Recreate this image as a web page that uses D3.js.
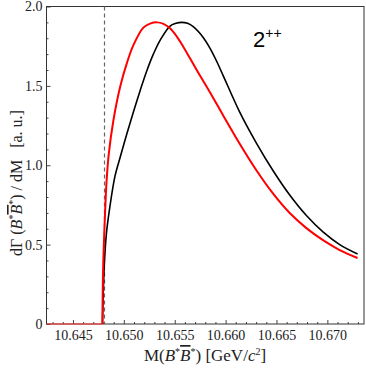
<!DOCTYPE html>
<html><head><meta charset="utf-8">
<script src="https://cdn.jsdelivr.net/npm/d3@7"></script>
<style>body{margin:0;background:#fff}svg{display:block}</style>
</head><body><svg id="c" width="366" height="369"></svg>
<script>
const xDomain = [10.6424, 10.6736];
const yDomain = [0, 2.0];
const xMajorTicks = [10.645, 10.650, 10.655, 10.660, 10.665, 10.670];
const yMajorTicks = [0, 0.5, 1.0, 1.5, 2.0];
const threshold = 10.6481;
const belowX = [10.6424, 10.64789];
const belowY = [0, 0];
const blackX = [10.64790, 10.64807, 10.64829, 10.64863, 10.64912, 10.64964, 10.65029, 10.65094, 10.65160, 10.65225, 10.65290, 10.65356, 10.65454, 10.65512, 10.65569, 10.65626, 10.65682, 10.65780, 10.65846, 10.65912, 10.65976, 10.66140, 10.66304, 10.66467, 10.66630, 10.66794, 10.66957, 10.67121, 10.67297];
const blackY = [0, 0.360, 0.571, 0.739, 0.928, 1.050, 1.197, 1.336, 1.470, 1.594, 1.700, 1.787, 1.877, 1.894, 1.900, 1.894, 1.873, 1.805, 1.738, 1.655, 1.565, 1.333, 1.138, 0.965, 0.812, 0.683, 0.580, 0.500, 0.441];
const redX = [10.64789, 10.64797, 10.64814, 10.64829, 10.64851, 10.64898, 10.64964, 10.65029, 10.65094, 10.65192, 10.65258, 10.65324, 10.65389, 10.65454, 10.65519, 10.65584, 10.65716, 10.65846, 10.65976, 10.66140, 10.66304, 10.66467, 10.66630, 10.66794, 10.66957, 10.67121, 10.67297];
const redY = [0, 0.361, 0.676, 0.886, 1.065, 1.285, 1.495, 1.642, 1.757, 1.867, 1.892, 1.900, 1.891, 1.863, 1.812, 1.747, 1.600, 1.460, 1.314, 1.134, 0.967, 0.821, 0.699, 0.604, 0.528, 0.466, 0.416];

const svg = d3.select("#c");
const L = 46.5, R = 364, T = 6.5, B = 324;
const x = d3.scaleLinear().domain(xDomain).range([L, R]);
const y = d3.scaleLinear().domain(yDomain).range([B, T]);
const serif = "Liberation Serif, Times New Roman, serif";

const xMinor = d3.range(10.643, 10.6736, 0.001).filter(v => !xMajorTicks.some(t => Math.abs(t - v) < 1e-6));
const yMinor = d3.range(0, 2.0001, 0.1).filter(v => !yMajorTicks.some(t => Math.abs(t - v) < 1e-6));

const gx = svg.append("g").attr("transform", `translate(0,${B})`);
gx.call(d3.axisBottom(x).tickValues(xMajorTicks).tickSize(-4).tickPadding(6).tickFormat(d3.format(".3f")));
const gxm = svg.append("g").attr("transform", `translate(0,${B})`);
gxm.call(d3.axisBottom(x).tickValues(xMinor).tickSize(-2).tickFormat(""));
const gy = svg.append("g").attr("transform", `translate(${L},0)`);
gy.call(d3.axisLeft(y).tickValues(yMajorTicks).tickSize(-4).tickPadding(4).tickFormat(d => d === 0 ? "0" : d3.format(".1f")(d)));
const gym = svg.append("g").attr("transform", `translate(${L},0)`);
gym.call(d3.axisLeft(y).tickValues(yMinor).tickSize(-2).tickFormat(""));
svg.selectAll(".domain").remove();
svg.selectAll(".tick line").attr("stroke", "#444");
svg.selectAll(".tick text").attr("font-size", 14).attr("fill", "#222").attr("font-family", serif);

svg.append("rect").attr("x", L).attr("y", T).attr("width", R - L).attr("height", B - T)
  .attr("fill", "none").attr("stroke", "#333").attr("stroke-width", 1);

svg.append("line").attr("x1", x(threshold)).attr("x2", x(threshold)).attr("y1", T).attr("y2", B)
  .attr("stroke", "#666").attr("stroke-width", 1.2).attr("stroke-dasharray", "4,3");

const line = d3.line().x(d => x(d[0])).y(d => y(d[1])).curve(d3.curveCatmullRom.alpha(0.5));
const flat = d3.line().x(d => x(d[0])).y(d => y(d[1]));
svg.append("path").datum(blackX.map((v, i) => [v, blackY[i]])).attr("d", line)
  .attr("fill", "none").attr("stroke", "#000").attr("stroke-width", 1.6);
svg.append("path").datum(redX.map((v, i) => [v, redY[i]])).attr("d", line)
  .attr("fill", "none").attr("stroke", "#f00").attr("stroke-width", 2);
svg.append("path").datum(belowX.map((v, i) => [v, belowY[i]])).attr("d", flat)
  .attr("fill", "none").attr("stroke", "#f33").attr("stroke-width", 1.5).attr("opacity", 0.7);

const lab = svg.append("text").attr("x", 253).attr("y", 47).style("font-family", "Liberation Sans, Arial, sans-serif").attr("font-size", 22).attr("fill", "#000");
lab.append("tspan").text("2");
lab.append("tspan").attr("font-size", 14).attr("dy", -9).text("++");

const xt = svg.append("text").attr("x", 205).attr("y", 361).attr("text-anchor", "middle").style("font-family", serif).attr("font-size", 17).attr("fill", "#222");
xt.append("tspan").text("M(");
xt.append("tspan").attr("font-style", "italic").text("B");
xt.append("tspan").attr("font-size", 10).attr("dy", -6).text("*");
xt.append("tspan").attr("font-style", "italic").attr("dy", 6).attr("text-decoration", "overline").text("B");
xt.append("tspan").attr("font-size", 10).attr("dy", -6).text("*");
xt.append("tspan").attr("dy", 6).text(") [GeV/");
xt.append("tspan").attr("font-style", "italic").text("c");
xt.append("tspan").attr("font-size", 10).attr("dy", -6).text("2");
xt.append("tspan").attr("dy", 6).text("]");

const yt = svg.append("text").attr("transform", "translate(22,183) rotate(-90)").attr("text-anchor", "middle").style("font-family", serif).attr("font-size", 16).attr("fill", "#222").style("white-space", "pre");
yt.append("tspan").text("dΓ (");
yt.append("tspan").attr("font-style", "italic").text("B");
yt.append("tspan").attr("font-size", 10).attr("dy", -6).text("*");
yt.append("tspan").attr("font-style", "italic").attr("dy", 6).attr("text-decoration", "overline").text("B");
yt.append("tspan").attr("font-size", 10).attr("dy", -6).text("*");
yt.append("tspan").attr("dy", 6).text(") / dM   [a. u.]");
</script></body></html>
